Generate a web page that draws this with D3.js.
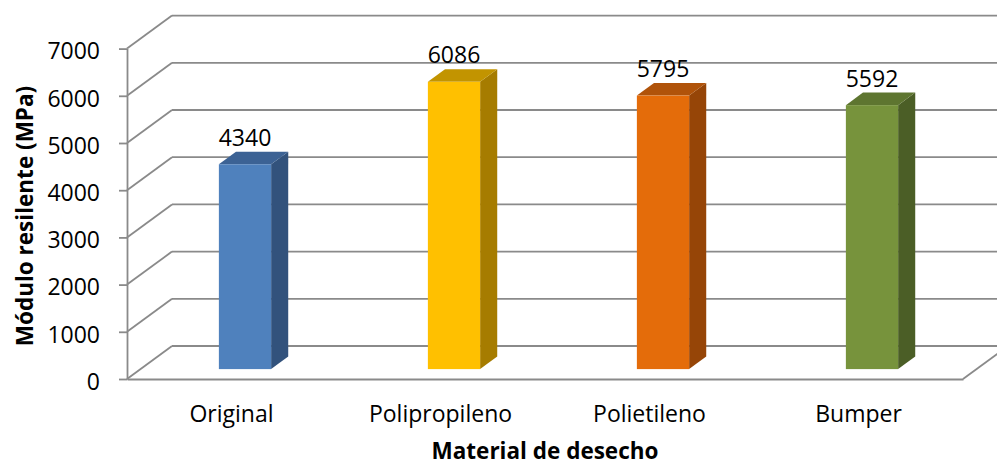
<!DOCTYPE html>
<html>
<head>
<meta charset="utf-8">
<script src="https://cdn.jsdelivr.net/npm/d3@7"></script>
<style>
  html, body { margin: 0; padding: 0; background: #fff; }
  svg { display: block; font-family: "Open Sans", "DejaVu Sans", sans-serif; }
</style>
</head>
<body>
<svg id="chart" width="997" height="466"></svg>
<script>
// Resilient modulus by waste material
const categories = ["Original", "Polipropileno", "Polietileno", "Bumper"];
const values = [4340, 6086, 5795, 5592];
const yTicks = [0, 1000, 2000, 3000, 4000, 5000, 6000, 7000];
const frontColors = ["#4F81BD", "#FFC000", "#E46C0A", "#77933C"];
const topColors = ["#3C6294", "#C29400", "#B0530A", "#5E7530"];
const sideColors = ["#32527C", "#A67C00", "#964507", "#4B5E26"];
const xTitle = "Material de desecho";
const yTitle = "Módulo resilente (MPa)";

const svg = d3.select("#chart");

// front plane of the 3D box
const plotLeft = 127, plotRight = 963, plotBottom = 379, plotTop = 48.6;
// oblique depth offset of the back wall
const depthX = 45, depthY = -33;

const y = d3.scaleLinear().domain([0, 7000]).range([plotBottom, plotTop]);
const x = d3.scaleBand().domain(categories).range([plotLeft, plotRight]).padding(0);

const grid = "#8a8a8a";
const g = svg.append("g");

// back wall gridlines and side wall diagonals
yTicks.forEach(v => {
  g.append("line")
    .attr("x1", plotLeft + depthX).attr("y1", y(v) + depthY)
    .attr("x2", plotRight + depthX + 10).attr("y2", y(v) + depthY)
    .attr("stroke", grid).attr("stroke-width", 1.8);
  g.append("line")
    .attr("x1", plotLeft).attr("y1", y(v))
    .attr("x2", plotLeft + depthX).attr("y2", y(v) + depthY)
    .attr("stroke", grid).attr("stroke-width", 1.8);
});

// right edge of the floor
g.append("line")
  .attr("x1", plotRight).attr("y1", plotBottom)
  .attr("x2", plotRight + depthX).attr("y2", plotBottom + depthY)
  .attr("stroke", grid).attr("stroke-width", 1.8);

// bars (box prisms)
const barW = x.bandwidth() * 0.25;
const f0 = 0.3, f1 = 0.68; // front and back depth fractions
const bars = g.selectAll("g.bar").data(values).enter().append("g").attr("class", "bar");

bars.each(function(v, i) {
  const b = d3.select(this);
  const x0 = x(categories[i]) + (x.bandwidth() - barW) / 2 + depthX * f0;
  const x1 = x0 + barW;
  const yb = y(0) + depthY * f0;
  const yt = y(v) + depthY * f0;
  const ddx = depthX * (f1 - f0), ddy = depthY * (f1 - f0);
  // side face
  b.append("path")
    .attr("d", `M${x1},${yb} L${x1 + ddx},${yb + ddy} L${x1 + ddx},${yt + ddy} L${x1},${yt} Z`)
    .attr("fill", sideColors[i]);
  // top face
  b.append("path")
    .attr("d", `M${x0},${yt} L${x1},${yt} L${x1 + ddx},${yt + ddy} L${x0 + ddx},${yt + ddy} Z`)
    .attr("fill", topColors[i]);
  // front face
  b.append("rect")
    .attr("x", x0).attr("y", yt)
    .attr("width", barW).attr("height", yb - yt)
    .attr("fill", frontColors[i]);
  // value label
  b.append("text")
    .attr("x", x0 + barW / 2)
    .attr("y", yt + ddy - 6)
    .attr("text-anchor", "middle")
    .attr("font-size", 23)
    .attr("fill", "#000")
    .text(v);
});

// left value axis
const yAxis = svg.append("g")
  .attr("transform", `translate(${plotLeft},0)`)
  .call(d3.axisLeft(y).tickValues(yTicks).tickFormat(d3.format("d"))
    .tickSize(8).tickSizeOuter(0).tickPadding(19));
yAxis.select(".domain").attr("stroke", grid).attr("stroke-width", 1.8);
yAxis.selectAll(".tick line").attr("stroke", grid).attr("stroke-width", 1.8);
yAxis.selectAll(".tick text")
  .attr("font-size", 23).attr("font-family", "Open Sans").attr("fill", "#000")
  .attr("dy", "0.45em");

// category axis along the front edge of the floor
const xAxis = svg.append("g")
  .attr("transform", `translate(0,${plotBottom})`)
  .call(d3.axisBottom(x).tickSize(0).tickSizeOuter(0).tickPadding(27));
xAxis.select(".domain").attr("stroke", grid).attr("stroke-width", 1.8);
xAxis.selectAll(".tick text")
  .attr("font-size", 23).attr("font-family", "Open Sans").attr("fill", "#000");

// axis titles
svg.append("text")
  .attr("x", 545)
  .attr("y", 459)
  .attr("text-anchor", "middle")
  .attr("font-size", 22.5).attr("font-weight", "bold")
  .text(xTitle);

svg.append("text")
  .attr("transform", `translate(33,216) rotate(-90)`)
  .attr("text-anchor", "middle")
  .attr("font-size", 22.5).attr("font-weight", "bold")
  .text(yTitle);
</script>
</body>
</html>
